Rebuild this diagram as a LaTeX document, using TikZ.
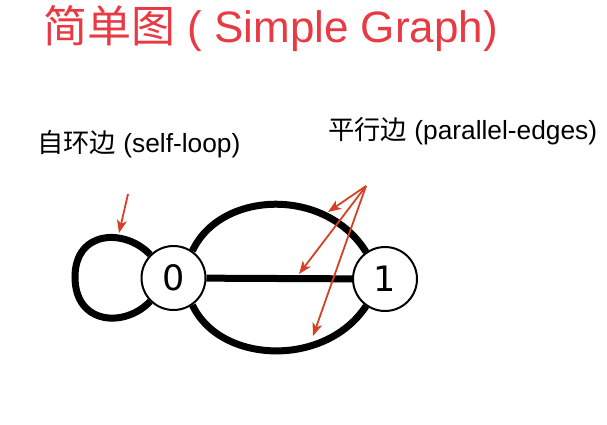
\documentclass[tikz,border=0pt]{standalone}
\usepackage{fontspec}
\setmainfont{Liberation Sans}
\newfontfamily\cjk{Noto Sans CJK SC}
\newfontfamily\dvsans{DejaVu Sans}
\usetikzlibrary{arrows.meta}
\definecolor{titlered}{RGB}{233,58,68}
\definecolor{arrred}{RGB}{215,65,35}
\pgfdeclarelayer{bg}
\pgfsetlayers{bg,main}
\begin{document}
\begin{tikzpicture}[x=1pt,y=-1pt,
  vtx/.style={circle, draw, line width=2pt, fill=white, minimum size=64pt, inner sep=0pt,
    font=\dvsans\fontsize{35}{35}\selectfont},
  edge/.style={line width=7pt},
  ptr/.style={arrred, line width=1.8pt, -{Stealth[length=13pt,width=10pt,inset=3.5pt]}},
  lbl/.style={anchor=base west, inner sep=0pt, font=\fontsize{26.3}{26.3}\selectfont}]
\useasboundingbox (0,0) rectangle (607,424);
\node[anchor=base west, inner sep=0pt, text=titlered, font=\fontsize{44}{44}\selectfont] (title) at (43,42) {{\cjk 简单图} ( Simple Graph)};
\node[lbl] (loopl) at (37,152) {{\cjk 自环边} (self-loop)};
\node[lbl] (parl) at (328,139) {{\cjk 平行边} (parallel-edges)};
\node[vtx] (n0) at (173.5,278) {0};
\node[vtx] (n1) at (385,279) {1};
\begin{pgfonlayer}{bg}
\draw[edge] (n0) -- (n1);
\draw[edge] (n0.55) .. controls (220,191) and (325,186) .. (n1.125);
\draw[edge] (n0.-55) .. controls (220,364) and (325,368) .. (n1.-125);
\draw[edge] (n0.135) .. controls (125,228) and (75,230) .. (75,277) .. controls (75,325) and (125,328) .. (n0.225);
\end{pgfonlayer}
\coordinate (ls) at (128,194);
\coordinate (le) at (119,233);
\coordinate (ps) at (366,186);
\coordinate (pa) at (328,212);
\coordinate (pb) at (299,274);
\coordinate (pc) at (313,336);
\draw[ptr] (ls) -- (le);
\draw[ptr] (ps) -- (pa);
\draw[ptr] (ps) -- (pb);
\draw[ptr] (ps) -- (pc);
\end{tikzpicture}
\end{document}
